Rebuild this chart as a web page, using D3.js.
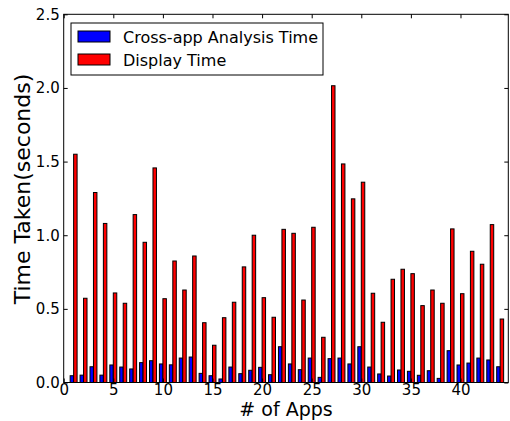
<!DOCTYPE html>
<html><head><meta charset="utf-8">
<script src="https://cdn.jsdelivr.net/npm/d3@7"></script>
<style>
html,body{margin:0;padding:0;background:#fff;}
svg{display:block;font-family:"DejaVu Sans",sans-serif;}
</style></head>
<body>
<svg id="c" width="510" height="421"></svg>
<script>
const apps = d3.range(1, 45);
const crossApp = [0.046,0.05,0.107,0.05,0.119,0.105,0.092,0.135,0.148,0.126,0.12,0.166,0.173,0.062,0.046,
  0.024,0.105,0.06,0.083,0.103,0.053,0.243,0.126,0.087,0.166,0.035,0.162,0.166,0.126,0.243,
  0.105,0.058,0.044,0.085,0.076,0.049,0.08,0.028,0.216,0.119,0.132,0.166,0.153,0.107];
const display = [1.55,0.572,1.29,1.08,0.608,0.538,1.14,0.952,1.457,0.569,0.825,0.628,0.859,0.406,0.253,
  0.44,0.545,0.785,1.0,0.576,0.443,1.04,1.013,0.56,1.054,0.307,2.015,1.484,1.247,1.36,
  0.606,0.409,0.701,0.769,0.739,0.522,0.628,0.538,1.043,0.603,0.891,0.803,1.072,0.431];
const xTicks = [0,5,10,15,20,25,30,35,40];
const yTicks = [0,0.5,1.0,1.5,2.0,2.5];
const seriesNames = ["Cross-app Analysis Time","Display Time"];
const seriesColors = ["#0000ff","#ff0000"];
const barWidth = 0.35;

const L = 63.7, R = 508.3, T = 14.3, B = 382.5;
const svg = d3.select("#c");
const x = d3.scaleLinear().domain([0, 44.82]).range([L, R]);
const y = d3.scaleLinear().domain([0, 2.5]).range([B, T]);
const bw = x(barWidth) - x(0);

const g = svg.append("g");
g.selectAll("rect.blue").data(apps).enter().append("rect")
  .attr("x", (d) => x(d - barWidth)).attr("width", bw)
  .attr("y", (d, i) => y(crossApp[i])).attr("height", (d, i) => y(0) - y(crossApp[i]))
  .attr("fill", seriesColors[0]).attr("stroke", "#000").attr("stroke-width", 1);
g.selectAll("rect.red").data(apps).enter().append("rect")
  .attr("x", (d) => x(d)).attr("width", bw)
  .attr("y", (d, i) => y(display[i])).attr("height", (d, i) => y(0) - y(display[i]))
  .attr("fill", seriesColors[1]).attr("stroke", "#000").attr("stroke-width", 1);

function styleAxis(sel) {
  sel.select(".domain").remove();
  sel.selectAll(".tick line").attr("stroke", "#000").attr("stroke-width", 1);
  sel.selectAll("text").attr("font-size", 15).attr("fill", "#000").attr("font-family", "DejaVu Sans");
}
svg.append("g").attr("transform", `translate(0,${B})`)
  .call(d3.axisBottom(x).tickValues(xTicks).tickFormat(d3.format("d")).tickSizeInner(-4).tickSizeOuter(0).tickPadding(2))
  .call(styleAxis);
svg.append("g").attr("transform", `translate(0,${T})`)
  .call(d3.axisTop(x).tickValues(xTicks).tickFormat("").tickSizeInner(-4).tickSizeOuter(0))
  .call(styleAxis);
svg.append("g").attr("transform", `translate(${L},0)`)
  .call(d3.axisLeft(y).tickValues(yTicks).tickFormat(d3.format(".1f")).tickSizeInner(-4).tickSizeOuter(0).tickPadding(4))
  .call(styleAxis);
svg.append("g").attr("transform", `translate(${R},0)`)
  .call(d3.axisRight(y).tickValues(yTicks).tickFormat("").tickSizeInner(-4).tickSizeOuter(0))
  .call(styleAxis);

svg.append("rect").attr("x", L).attr("y", T).attr("width", R - L).attr("height", B - T)
  .attr("fill", "none").attr("stroke", "#000").attr("stroke-width", 1);

// legend
const lg = svg.append("g");
lg.append("rect").attr("x", 71).attr("y", 23).attr("width", 252).attr("height", 52)
  .attr("fill", "#fff").attr("stroke", "#000").attr("stroke-width", 1);
seriesNames.forEach((n, i) => {
  lg.append("rect").attr("x", 78).attr("y", 31 + i * 23).attr("width", 32).attr("height", 11)
    .attr("fill", seriesColors[i]).attr("stroke", "#000").attr("stroke-width", 1);
  lg.append("text").attr("x", 123).attr("y", 42.5 + i * 23).attr("font-size", 16).attr("fill", "#000").text(n);
});

svg.append("text").attr("x", (L + R) / 2).attr("y", 416.3).attr("text-anchor", "middle")
  .attr("font-size", 19).attr("fill", "#000").text("# of Apps");
svg.append("text").attr("transform", "translate(30,189) rotate(-90)").attr("text-anchor", "middle")
  .attr("font-size", 22).attr("fill", "#000").text("Time Taken(seconds)");
</script>
</body></html>
